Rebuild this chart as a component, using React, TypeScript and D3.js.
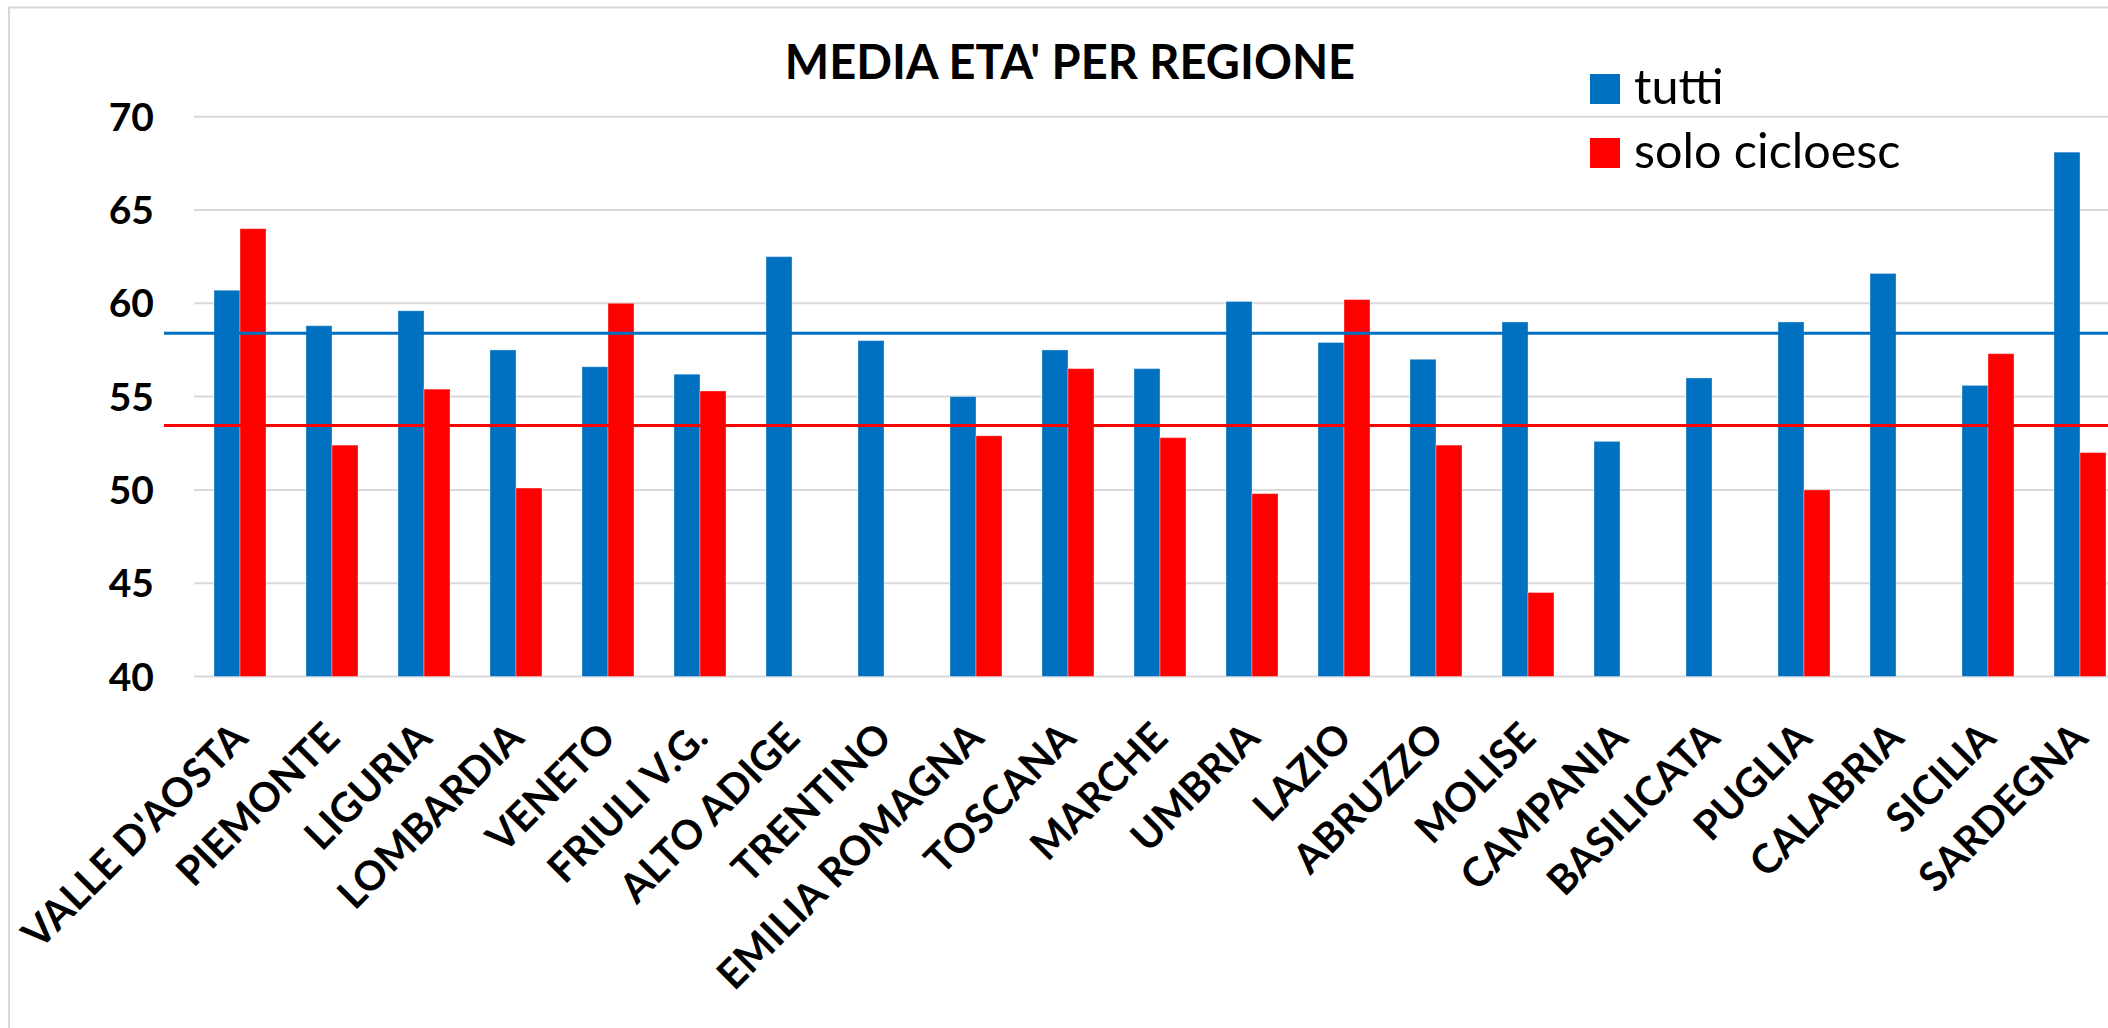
import React from "react";
import * as d3 from "d3";

const categories = [
  "VALLE D'AOSTA", "PIEMONTE", "LIGURIA", "LOMBARDIA", "VENETO", "FRIULI V.G.",
  "ALTO ADIGE", "TRENTINO", "EMILIA ROMAGNA", "TOSCANA", "MARCHE", "UMBRIA",
  "LAZIO", "ABRUZZO", "MOLISE", "CAMPANIA", "BASILICATA", "PUGLIA", "CALABRIA",
  "SICILIA", "SARDEGNA",
];
const tutti: (number | null)[] = [
  60.7, 58.8, 59.6, 57.5, 56.6, 56.2, 62.5, 58.0, 55.0, 57.5, 56.5, 60.1,
  57.9, 57.0, 59.0, 52.6, 56.0, 59.0, 61.6, 55.6, 68.1,
];
const soloCicloesc: (number | null)[] = [
  64.0, 52.4, 55.4, 50.1, 60.0, 55.3, null, null, 52.9, 56.5, 52.8, 49.8,
  60.2, 52.4, 44.5, null, null, 50.0, null, 57.3, 52.0,
];
const seriesNames = ["tutti", "solo cicloesc"];
const seriesColors = ["#0070C0", "#FF0000"];
const averages = [58.4, 53.45];
const yTicks = [40, 45, 50, 55, 60, 65, 70];
const title = "MEDIA ETA' PER REGIONE";

const W = 2108;
const H = 1028;
const FONT = "Lato, 'Open Sans', sans-serif";

export default function App() {
  const plotLeft = 194;
  const step = 92;
  const x = d3
    .scaleBand<string>()
    .domain(categories)
    .range([plotLeft, plotLeft + step * categories.length])
    .paddingInner(40 / 92)
    .paddingOuter(20 / 92);
  const xs = d3
    .scaleBand<string>()
    .domain(seriesNames)
    .range([0, x.bandwidth()]);
  const y = d3.scaleLinear().domain([40, 70]).range([676.5, 116.7]);
  const seriesValues = [tutti, soloCicloesc];

  return (
    <svg
      width={W}
      height={H}
      style={{ position: "absolute", left: 0, top: 0, background: "#fff" }}
    >
      <rect x={0} y={0} width={W} height={H} fill="#fff" />
      <rect x={9} y={7.5} width={W + 50} height={H + 50} fill="none" stroke="#D9D9D9" strokeWidth={2} />
      {/* gridlines */}
      {yTicks.map((t) => (
        <line key={t} x1={plotLeft} x2={W} y1={y(t)} y2={y(t)} stroke="#D9D9D9" strokeWidth={2} />
      ))}
      {/* y tick labels */}
      {yTicks.map((t) => (
        <text
          key={"l" + t}
          x={154}
          y={y(t)}
          dy="0.36em"
          textAnchor="end"
          fontFamily={FONT}
          fontWeight="bold"
          fontSize={39}
          fill="#000"
        >
          {t}
        </text>
      ))}
      {/* bars */}
      {categories.map((c, i) => (
        <g key={c} transform={`translate(${x(c)},0)`}>
          {seriesValues.map((vals, s) => {
            const v = vals[i];
            if (v == null) return null;
            return (
              <rect
                key={s}
                x={xs(seriesNames[s])}
                y={y(v)}
                width={xs.bandwidth()}
                height={y(40) - y(v)}
                fill={seriesColors[s]}
                stroke="#ffffff"
                strokeOpacity={0.35}
                strokeWidth={1}
              />
            );
          })}
        </g>
      ))}
      {/* average lines */}
      {averages.map((a, s) => (
        <line key={"a" + s} x1={164} x2={W} y1={y(a)} y2={y(a)} stroke={seriesColors[s]} strokeWidth={3} />
      ))}
      {/* x labels */}
      {categories.map((c) => {
        const cx = (x(c) as number) + x.bandwidth() / 2 + 10;
        const cy = 740;
        return (
          <text
            key={"x" + c}
            transform={`translate(${cx},${cy}) rotate(-45)`}
            textAnchor="end"
            fontFamily={FONT}
            fontWeight="bold"
            fontSize={40.5}
            fill="#000"
          >
            {c}
          </text>
        );
      })}
      {/* title */}
      <text x={1070} y={79} textAnchor="middle" fontFamily={FONT} fontWeight="bold" fontSize={47} fill="#000">
        {title}
      </text>
      {/* legend */}
      {seriesNames.map((n, s) => (
        <g key={"lg" + s} transform={`translate(1590,${74 + s * 64})`}>
          <rect x={0} y={0} width={30} height={30} fill={seriesColors[s]} />
          <text x={44} y={30} fontFamily={FONT} fontSize={48.5} fill="#000">
            {n}
          </text>
        </g>
      ))}
    </svg>
  );
}
